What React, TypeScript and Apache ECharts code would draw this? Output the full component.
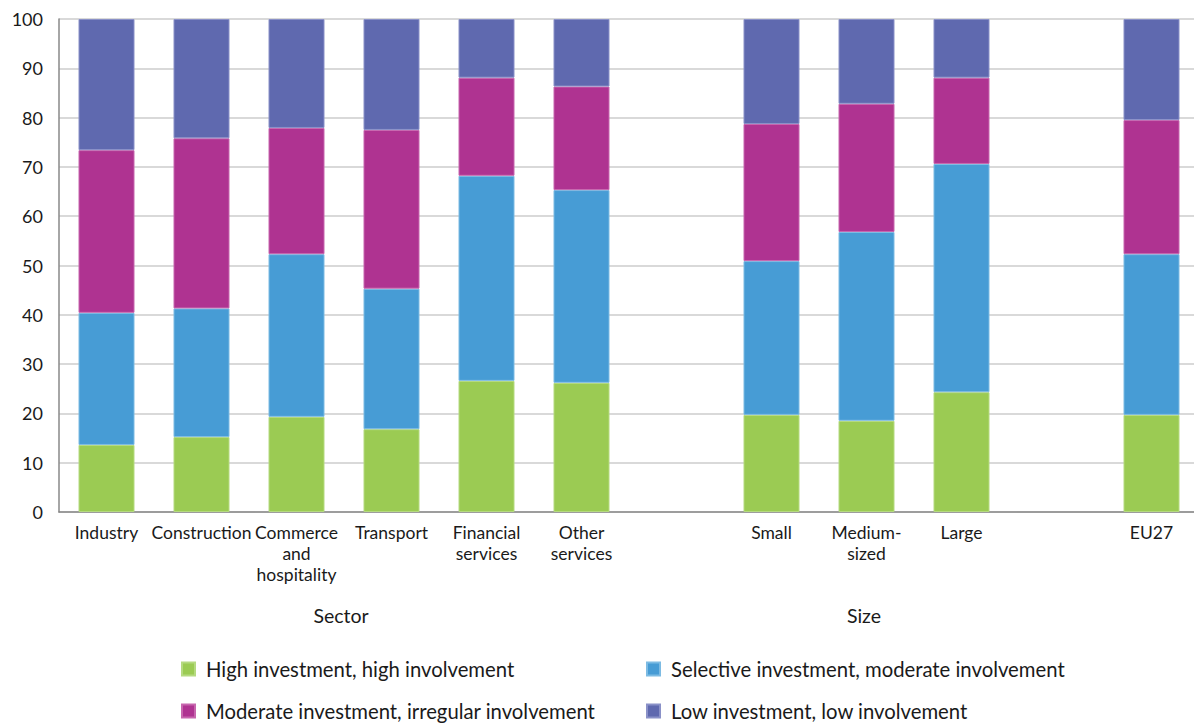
import React, { useEffect, useRef } from "react";
import * as echarts from "echarts";

const categories = [
  "Industry",
  "Construction",
  "Commerce\nand\nhospitality",
  "Transport",
  "Financial\nservices",
  "Other\nservices",
  " ",
  "Small",
  "Medium-\nsized",
  "Large",
  "  ",
  "EU27",
];

const highHigh = [13.6, 15.2, 19.3, 16.8, 26.6, 26.2, null, 19.7, 18.5, 24.3, null, 19.7];
const selectiveModerate = [26.8, 26.1, 33.0, 28.5, 41.6, 39.1, null, 31.2, 38.3, 46.3, null, 32.6];
const moderateIrregular = [33.0, 34.5, 25.6, 32.2, 19.9, 21.0, null, 27.8, 26.0, 17.5, null, 27.2];
const lowLow = [26.6, 24.2, 22.1, 22.5, 11.9, 13.7, null, 21.3, 17.2, 11.9, null, 20.5];

const seriesNames = [
  "High investment, high involvement",
  "Selective investment, moderate involvement",
  "Moderate investment, irregular involvement",
  "Low investment, low involvement",
];
const colors = ["#9BCB53", "#479CD5", "#AF3391", "#5F69AF"];
const borders = ["#B5DA80", "#7DBBE3", "#C766AE", "#8A91C8"];
const groupLabels = ["Sector", "Size"];

const FONT = "Lato";

export default function App() {
  const ref = useRef<HTMLDivElement>(null);
  useEffect(() => {
    if (!ref.current) return;
    const chart = echarts.init(ref.current, undefined, { renderer: "svg" });
    const data = [highHigh, selectiveModerate, moderateIrregular, lowLow];
    const legendBase = {
      orient: "vertical",
      top: 654,
      height: 100,
      itemWidth: 13,
      itemHeight: 13,
      itemGap: 22,
      icon: "rect",
      textStyle: { fontSize: 20.3, lineHeight: 20, color: "#1a1a1a", padding: [0, 0, 0, 6], fontFamily: FONT },
    };
    chart.setOption({
      animation: false,
      textStyle: { fontFamily: FONT },
      grid: { left: 59, top: 19, width: 1140, height: 493, containLabel: false },
      xAxis: {
        type: "category",
        data: categories,
        axisTick: { show: false },
        axisLine: { lineStyle: { color: "#888", width: 1.5 } },
        axisLabel: {
          interval: 0,
          fontSize: 17.5,
          lineHeight: 21,
          color: "#1a1a1a",
          margin: 10,
          fontFamily: FONT,
        },
      },
      yAxis: {
        type: "value",
        min: 0,
        max: 100,
        interval: 10,
        axisLine: { show: true, lineStyle: { color: "#888", width: 1.5 } },
        axisTick: { show: false },
        splitLine: { lineStyle: { color: "#cccccc", width: 1.5 } },
        axisLabel: { fontSize: 18, color: "#1a1a1a", margin: 16, fontFamily: FONT },
      },
      legend: [
        { ...legendBase, left: 176, data: [seriesNames[0], seriesNames[2]] },
        { ...legendBase, left: 641, data: [seriesNames[1], seriesNames[3]] },
      ],
      graphic: [
        {
          type: "text",
          x: 341,
          y: 615,
          style: {
            text: groupLabels[0],
            fontSize: 19.5,
            fill: "#1a1a1a",
            fontFamily: FONT,
            align: "center",
            verticalAlign: "middle",
          },
        },
        {
          type: "text",
          x: 864,
          y: 615,
          style: {
            text: groupLabels[1],
            fontSize: 19.5,
            fill: "#1a1a1a",
            fontFamily: FONT,
            align: "center",
            verticalAlign: "middle",
          },
        },
      ],
      series: data.map((d, i) => ({
        name: seriesNames[i],
        type: "bar",
        stack: "total",
        barWidth: 56,
        data: d,
        itemStyle: { color: colors[i], borderColor: borders[i], borderWidth: 1 },
      })),
    });
    return () => chart.dispose();
  }, []);
  return (
    <div
      ref={ref}
      style={{ position: "fixed", left: 0, top: 0, width: 1200, height: 724, background: "#fff" }}
    />
  );
}
